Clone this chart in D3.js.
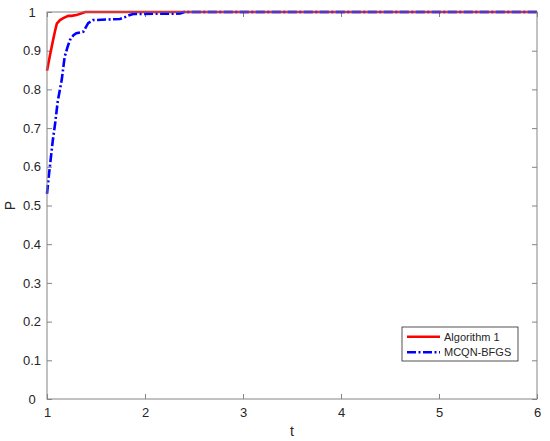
<!DOCTYPE html>
<html><head><meta charset="utf-8">
<script src="https://cdn.jsdelivr.net/npm/d3@7"></script>
<style>body{margin:0;background:#fff}text{font-family:"Liberation Sans",Arial,sans-serif}</style>
</head><body>
<svg id="c" width="550" height="441"></svg>
<script>
const xTicks=[1,2,3,4,5,6];
const yTicks=[0,0.1,0.2,0.3,0.4,0.5,0.6,0.7,0.8,0.9,1];
const seriesNames=["Algorithm 1","MCQN-BFGS"];
const algT=[1,1.034,1.06,1.082,1.1,1.133,1.166,1.217,1.25,1.30,1.354,1.39,6];
const algP=[0.848,0.893,0.925,0.951,0.97,0.979,0.984,0.99,0.99,0.992,0.997,1,1];
const mcqT=[1,1.02,1.04,1.06,1.082,1.11,1.15,1.18,1.21,1.235,1.27,1.30,1.37,1.42,1.47,1.745,1.79,1.83,1.88,2.36,2.4,6];
const mcqP=[0.53,0.58,0.625,0.67,0.71,0.77,0.824,0.884,0.91,0.928,0.94,0.945,0.949,0.971,0.979,0.982,0.986,0.991,0.995,0.996,1,1];

const svg=d3.select("#c");
const m={l:47,r:537,t:12,b:399};
const x=d3.scaleLinear().domain([1,6]).range([m.l,m.r]);
const y=d3.scaleLinear().domain([0,1]).range([m.b,m.t]);
const axisCol="#848484";
const dashBlue="9,2.5,2,2.5";

function styleAxis(g){g.select(".domain").remove();g.selectAll("line").attr("stroke",axisCol);g.selectAll("text").attr("fill","#262626").style("font-size","13px");}
svg.append("g").attr("transform",`translate(0,${m.b})`).call(d3.axisBottom(x).tickValues(xTicks).tickFormat(d3.format("d")).tickSizeInner(-5).tickSizeOuter(0).tickPadding(9)).call(styleAxis);
svg.append("g").attr("transform",`translate(0,${m.t})`).call(d3.axisTop(x).tickValues(xTicks).tickFormat("").tickSizeInner(-5).tickSizeOuter(0)).call(styleAxis);
const ya=svg.append("g").attr("transform",`translate(${m.l},0)`).call(d3.axisLeft(y).tickValues(yTicks).tickFormat(d=>d===0?"0":d===1?"1":d3.format(".1f")(d)).tickSizeInner(-5).tickSizeOuter(0)).call(styleAxis);
ya.selectAll("text").attr("text-anchor","middle").attr("x",32-m.l);
svg.append("g").attr("transform",`translate(${m.r},0)`).call(d3.axisRight(y).tickValues(yTicks).tickFormat("").tickSizeInner(-5).tickSizeOuter(0)).call(styleAxis);

const line=d3.line().x(d=>x(d[0])).y(d=>y(d[1]));
svg.append("clipPath").attr("id","cp").append("rect").attr("x",m.l-2).attr("y",m.t-3).attr("width",m.r-m.l+4).attr("height",m.b-m.t+6);
const gL=svg.append("g").attr("clip-path","url(#cp)");
gL.append("path").datum(algT.map((t,i)=>[t,algP[i]])).attr("d",line).attr("fill","none").attr("stroke","#ff0000").attr("stroke-width",2.6);
gL.append("path").datum(mcqT.map((t,i)=>[t,mcqP[i]])).attr("d",line).attr("fill","none").attr("stroke","#0000ff").attr("stroke-width",2.6).attr("stroke-dasharray",dashBlue);

svg.append("rect").attr("x",m.l).attr("y",m.t).attr("width",m.r-m.l).attr("height",m.b-m.t).attr("fill","none").attr("stroke",axisCol).attr("stroke-width",1);

svg.append("text").attr("x",(m.l+m.r)/2).attr("y",436).attr("text-anchor","middle").style("font-size","14px").attr("fill","#262626").text("t");
svg.append("text").attr("transform",`translate(15,${(m.t+m.b)/2}) rotate(-90)`).attr("text-anchor","middle").style("font-size","14px").attr("fill","#262626").text("P");

const lg=svg.append("g");
lg.append("rect").attr("x",402).attr("y",327).attr("width",116).attr("height",34).attr("fill","#fff").attr("stroke","#262626").attr("stroke-width",0.8);
const cols=["#ff0000","#0000ff"],dashes=[null,dashBlue],ly=[336.7,352.3];
seriesNames.forEach((n,i)=>{
  lg.append("line").attr("x1",407).attr("x2",440).attr("y1",ly[i]).attr("y2",ly[i]).attr("stroke",cols[i]).attr("stroke-width",2.6).attr("stroke-dasharray",dashes[i]);
  lg.append("text").attr("x",444).attr("y",ly[i]+4).style("font-size","11px").attr("fill","#262626").text(n);
});
</script>
</body></html>
